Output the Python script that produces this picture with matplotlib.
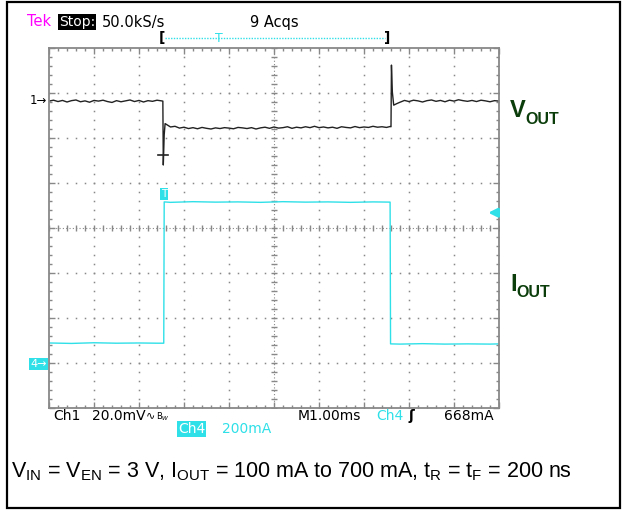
"""Scope capture redraw: load transient, VOUT (ch1) and IOUT (ch4)."""
import matplotlib
matplotlib.use("Agg")
import matplotlib.pyplot as plt
from matplotlib.lines import Line2D
from matplotlib.patches import Rectangle
import numpy as np

plt.rcParams["mathtext.fontset"] = "custom"
plt.rcParams["mathtext.rm"] = "Liberation Sans"

# ---- scope settings ----
MS_PER_DIV = 1.0          # M1.00ms
CH1_MV_PER_DIV = 20.0     # Ch1 20.0mV
CH4_MA_PER_DIV = 200.0    # Ch4 200mA
CH1_REF_DIV = 2.82        # "1->" marker
CH4_REF_DIV = -3.0        # "4->" marker
TRIG_MA = 668.0

# ---- VOUT trace (ms, mV relative to ch1 marker) ----
vout_t = [-5.00, -4.90, -4.80, -4.70, -4.60, -4.50, -4.40, -4.30, -4.20, -4.10,
          -4.00, -3.90, -3.80, -3.70, -3.60, -3.50, -3.40, -3.30, -3.20, -3.10,
          -3.00, -2.90, -2.80, -2.70, -2.60, -2.50, -2.47, -2.46,
          -2.44, -2.42, -2.38, -2.30, -2.20, -2.10, -2.00, -1.90, -1.80, -1.70,
          -1.60, -1.50, -1.40, -1.30, -1.20, -1.10, -1.00, -0.90, -0.80, -0.70,
          -0.60, -0.50, -0.40, -0.30, -0.20, -0.10, 0.00, 0.10, 0.20, 0.30,
          0.40, 0.50, 0.60, 0.70, 0.80, 0.90, 1.00, 1.10, 1.20, 1.30,
          1.40, 1.50, 1.60, 1.70, 1.80, 1.90, 2.00, 2.10, 2.20, 2.30,
          2.40, 2.50, 2.58, 2.60, 2.61, 2.63,
          2.66, 2.72, 2.80, 2.90, 3.00, 3.10, 3.20, 3.30, 3.40, 3.50,
          3.60, 3.70, 3.80, 3.90, 4.00, 4.10, 4.20, 4.30, 4.40, 4.50,
          4.60, 4.70, 4.80, 4.90, 5.00]
vout_mv = [0.0, 0.4, -0.2, 0.3, -0.4, 0.2, 0.5, -0.3, 0.1, -0.5,
           0.3, 0.0, 0.4, -0.2, -0.6, 0.2, -0.3, 0.1, 0.5, -0.2,
           0.3, -0.4, 0.2, -0.1, 0.4, 0.1, 0.0, -28.4,
           -15.0, -10.0, -10.5, -11.5, -11.2, -12.0, -11.6, -12.2, -11.8, -12.3,
           -11.7, -12.1, -12.4, -11.9, -12.2, -11.8, -12.0, -12.3, -11.7, -11.9,
           -12.2, -11.8, -12.4, -11.9, -11.6, -12.1, -11.5, -12.0, -11.8, -11.4,
           -12.1, -11.6, -11.9, -11.4, -11.8, -11.2, -11.8, -11.5, -11.9, -11.6,
           -12.1, -11.4, -11.7, -11.9, -11.3, -11.8, -11.5, -11.7, -11.2, -11.6,
           -11.4, -11.7, -11.3, -11.4, 16.0, 4.0,
           -1.8, -1.2, -0.5, 0.3, -0.2, 0.4, 0.1, -0.4, 0.2, 0.5,
           -0.1, 0.3, -0.3, 0.4, 0.0, 0.6, 0.2, -0.1, 0.3, -0.2,
           0.4, 0.1, -0.3, 0.2, 0.0]

# ---- IOUT trace (ms, mA) ----
iout_t = [-5.00, -4.50, -4.00, -3.50, -3.00, -2.60, -2.45, -2.44, -2.30, -1.80,
          -1.30, -0.80, -0.30, 0.20, 0.70, 1.20, 1.70, 2.20, 2.58, 2.59,
          2.80, 3.30, 3.80, 4.30, 4.80, 5.00]
iout_ma = [89, 87, 90, 88, 89, 88, 88, 716, 714, 717,
           715, 716, 714, 717, 715, 716, 714, 716, 715, 85,
           84, 86, 84, 85, 84, 85]

CYAN = "#2fe0e8"
W, H = 622, 511
fig = plt.figure(figsize=(W / 100, H / 100), dpi=100)


def fx(x):
    return x / W


def fy(y):
    return 1 - y / H


def ftext(x, y, s, **kw):
    kw.setdefault("fontsize", 10)
    kw.setdefault("va", "center")
    fig.text(fx(x), fy(y), s, **kw)


# outer frame
fig.patches.append(Rectangle((fx(7), fy(508)), fx(620) - fx(7), fy(2) - fy(508),
                             transform=fig.transFigure, fill=False,
                             ec="black", lw=1.6))

ax = fig.add_axes([fx(49), fy(408), fx(499) - fx(49), fy(48) - fy(408)])
ax.set_xlim(-5, 5)
ax.set_ylim(-4, 4)
ax.set_xticks(range(-5, 6))
ax.set_yticks(range(-4, 5))
ax.set_xticks(np.arange(-5, 5.01, 0.2), minor=True)
ax.set_yticks(np.arange(-4, 4.01, 0.2), minor=True)
ax.tick_params(which="both", direction="in", top=True, right=True,
               labelbottom=False, labelleft=False, color="#888")
ax.tick_params(which="major", length=4, width=1)
ax.tick_params(which="minor", length=2, width=1)
for sp in ax.spines.values():
    sp.set_color("#888")
    sp.set_linewidth(1.3)

# dotted graticule
steps_x = np.arange(-5, 5.01, 0.2)
steps_y = np.arange(-4, 4.01, 0.2)
for g in range(-4, 5):
    if g != 0:
        ax.plot([g] * len(steps_y), steps_y, ls="none", marker="s", ms=1.1,
                color="#888", mew=0)
for g in range(-3, 4):
    if g != 0:
        ax.plot(steps_x, [g] * len(steps_x), ls="none", marker="s", ms=1.1,
                color="#888", mew=0)
ax.axvline(0, color="#888", lw=0.8, ls=(0, (1, 2)))
ax.axhline(0, color="#888", lw=0.8, ls=(0, (1, 2)))
ax.plot([0] * len(steps_y), steps_y, ls="none", marker="_", ms=5, color="#888", mew=1)
ax.plot(steps_x, [0] * len(steps_x), ls="none", marker="|", ms=5, color="#888", mew=1)

# traces
v_div = np.array(vout_mv) / CH1_MV_PER_DIV + CH1_REF_DIV
i_div = np.array(iout_ma) / CH4_MA_PER_DIV + CH4_REF_DIV
ax.plot(np.array(vout_t) / MS_PER_DIV, v_div, color="#222", lw=1.0)
ax.plot(np.array(iout_t) / MS_PER_DIV, i_div, color=CYAN, lw=1.0)

# trigger level arrow on right edge
trig_div = TRIG_MA / CH4_MA_PER_DIV + CH4_REF_DIV
ax.annotate("", xy=(4.70, trig_div), xytext=(5.0, trig_div),
            arrowprops=dict(arrowstyle="-|>", color=CYAN, lw=2,
                            mutation_scale=13), annotation_clip=False)

# black T marker on the VOUT dip
fig.add_artist(Line2D([fx(158), fx(168)], [fy(155), fy(155)], color="#222", lw=1.2))

# top status line
ftext(27, 22, "Tek", color="#ff00ff", fontsize=10.5)
ftext(59, 22, "Stop:", color="white", fontsize=10,
      bbox=dict(boxstyle="square,pad=0.05", fc="black", ec="none"))
ftext(102, 22, "50.0kS/s", fontsize=10.5)
ftext(250, 22, "9 Acqs", fontsize=10.5)
ftext(159, 38, "[", fontsize=10, fontweight="bold")
ftext(384, 38, "]", fontsize=10, fontweight="bold")
fig.add_artist(Line2D([fx(165), fx(385)], [fy(38), fy(38)], color=CYAN,
                      lw=1, ls=(0, (1, 1))))
ftext(219, 38, "T", color=CYAN, fontsize=9, ha="center")

# channel markers
ftext(30, 101, "1→", fontsize=8.5)
ftext(30, 364, "4→", color="white", fontsize=8,
      bbox=dict(boxstyle="square,pad=0.1", fc=CYAN, ec="none"))
ftext(164, 194, "T", color="white", fontsize=7.5, ha="center",
      bbox=dict(boxstyle="square,pad=0.1", fc=CYAN, ec="none"))

# bottom readout
ftext(53, 416, "Ch1", fontsize=10)
ftext(92, 416, "20.0mV", fontsize=10)
ftext(146, 415, "∿", fontsize=8)
ftext(156, 417, "B$_W$", fontsize=6)
ftext(298, 416, "M1.00ms", fontsize=10)
ftext(376, 416, "Ch4", fontsize=10, color=CYAN)
ftext(409, 416, "ʃ", fontsize=10, fontweight="bold")
ftext(444, 416, "668mA", fontsize=10)
ftext(178, 429, "Ch4", fontsize=10, color="white",
      bbox=dict(boxstyle="square,pad=0.05", fc=CYAN, ec="none"))
ftext(222, 429, "200mA", fontsize=10, color=CYAN)

# trace labels
lab = dict(color="#0b3d0b", fontweight="bold", family="Liberation Sans", va="baseline")
ftext(510, 117, "V", fontsize=17, **lab)
ftext(525, 124, "OUT", fontsize=11.5, **lab)
ftext(510, 291, "I", fontsize=17, **lab)
ftext(516, 297, "OUT", fontsize=11.5, **lab)

# caption
ftext(11, 477,
      r"V$_{\mathrm{IN}}$ = V$_{\mathrm{EN}}$ = 3 V, I$_{\mathrm{OUT}}$ = 100 mA to 700 mA, "
      r"t$_{\mathrm{R}}$ = t$_{\mathrm{F}}$ = 200 ns",
      fontsize=15.5, family="Liberation Sans", va="baseline")

fig.savefig("out.png", dpi=100)
